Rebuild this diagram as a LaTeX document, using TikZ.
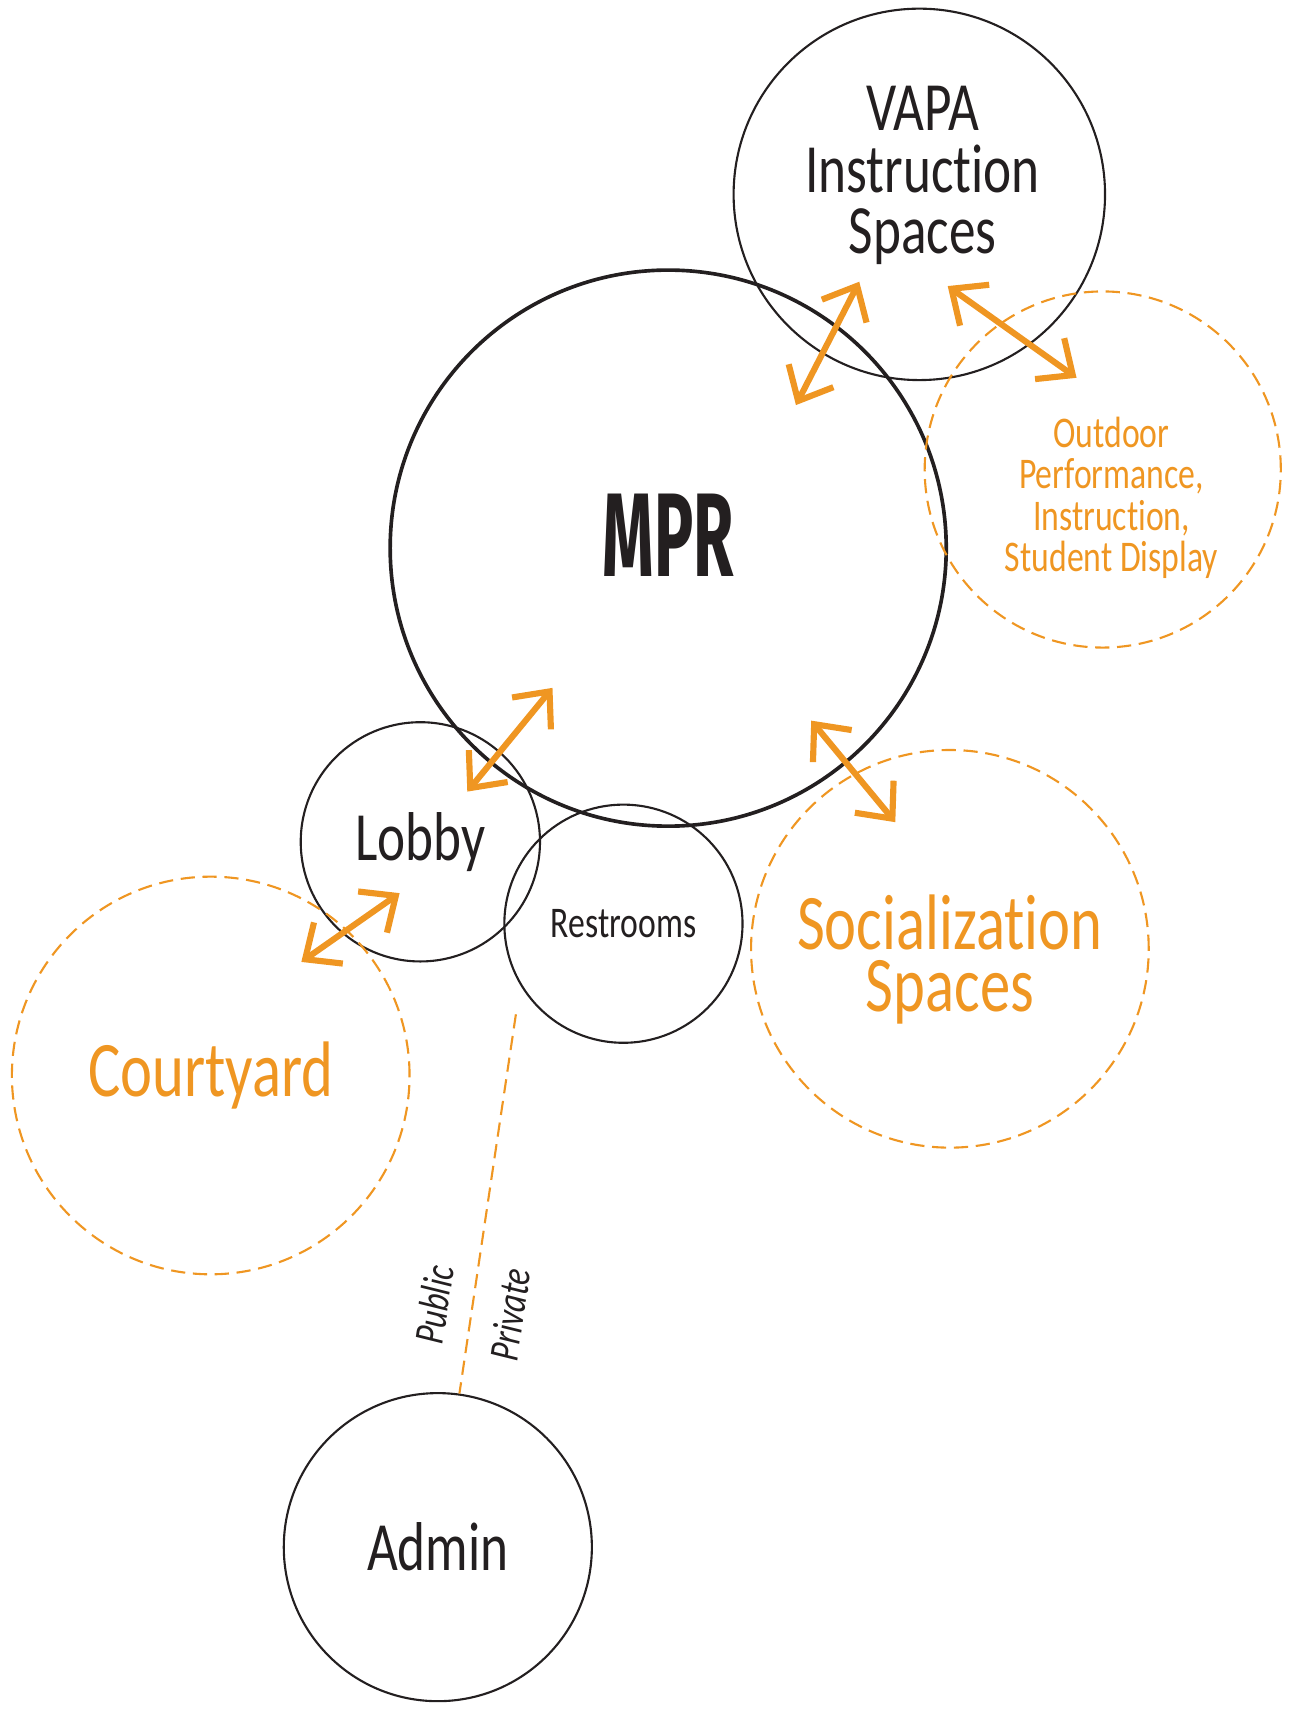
\documentclass[tikz,border=0pt]{standalone}
\usepackage{fontspec}
\setmainfont{Carlito}[FakeStretch=0.77, Ligatures={NoCommon, NoRequired, NoContextual}]
\newfontfamily\mprfont{Fira Sans}[FakeStretch=0.55]
\usetikzlibrary{arrows.meta}
\definecolor{accent}{RGB}{239,150,34}
\definecolor{ink}{RGB}{35,31,32}
\tikzset{
	room/.style = {draw=ink, circle, inner sep=0pt, line width=0.55pt, text=ink, align=center},
	space/.style = {draw=accent, circle, inner sep=0pt, line width=0.55pt, dash pattern=on 3.7pt off 2pt, text=accent, align=center},
	flow/.style = {draw=accent, line width=1.6pt,
		{Straight Barb[length=2.6mm, width=4.6mm]}-{Straight Barb[length=2.6mm, width=4.6mm]}},
	big/.style = {font=\fontsize{18}{16}\selectfont},
	bigger/.style = {font=\fontsize{20.5}{16.2}\selectfont},
	small/.style = {font=\fontsize{11.4}{10.8}\selectfont},
	side/.style = {rotate=81.5, inner sep=1pt, text=ink, font=\itshape\fontsize{11}{11}\selectfont},
}

\begin{document}
\begin{tikzpicture}[x=0.01cm, y=-0.01cm]
	\useasboundingbox (0, 0) rectangle (1182, 1568);
	% rooms
	\node [room, line width=0.95pt, minimum size=5.09cm] (mpr) at (612, 502) {};
	\node [text=ink, font=\mprfont\bfseries\fontsize{31}{31}\selectfont] (mprtext) at (612, 490) {MPR};
	\node [room, minimum size=3.4cm] (vapa) at (842, 178) {};
	\node [big, text=ink, align=center] (vapatext) at (845, 161) {VAPA\\Instruction\\Spaces};
	\node [room, big, minimum size=2.19cm] (lobby) at (385, 771) {Lobby};
	\node [room, small, minimum size=2.18cm] (restrooms) at (571, 846) {Restrooms};
	\node [room, big, minimum size=2.82cm] (admin) at (401, 1417) {Admin};
	% outdoor spaces
	\node [space, minimum size=3.26cm] (outdoor) at (1010, 430) {};
	\node [small, text=accent, align=center] (outdoortext) at (1018, 456) {Outdoor\\Performance,\\Instruction,\\Student Display};
	\node [space, minimum size=3.64cm] (social) at (870, 869) {};
	\node [bigger, text=accent, align=center] (socialtext) at (870, 879) {Socialization\\Spaces};
	\node [space, bigger, minimum size=3.64cm] (courtyard) at (193, 985) {Courtyard};
	% arrow ends
	\coordinate (mv1) at (729, 371);
	\coordinate (mv2) at (787, 258);
	\coordinate (vo1) at (868, 262);
	\coordinate (vo2) at (986, 346);
	\coordinate (ml1) at (428, 725);
	\coordinate (ml2) at (506, 630);
	\coordinate (ms1) at (743, 660);
	\coordinate (ms2) at (820, 753);
	\coordinate (lc1) at (276, 881);
	\coordinate (lc2) at (366, 818);
	\draw [flow] (mv1) -- (mv2);
	\draw [flow] (vo1) -- (vo2);
	\draw [flow] (ml1) -- (ml2);
	\draw [flow] (ms1) -- (ms2);
	\draw [flow] (lc1) -- (lc2);
	% public / private split
	\coordinate (split) at (472.5, 929);
	\draw [draw=accent, line width=0.55pt, dash pattern=on 3.7pt off 2pt] (split) -- (admin.82);
	\node [side] (public) at (397.5, 1195) {Public};
	\node [side] (private) at (467, 1204) {Private};
\end{tikzpicture}
\end{document}
